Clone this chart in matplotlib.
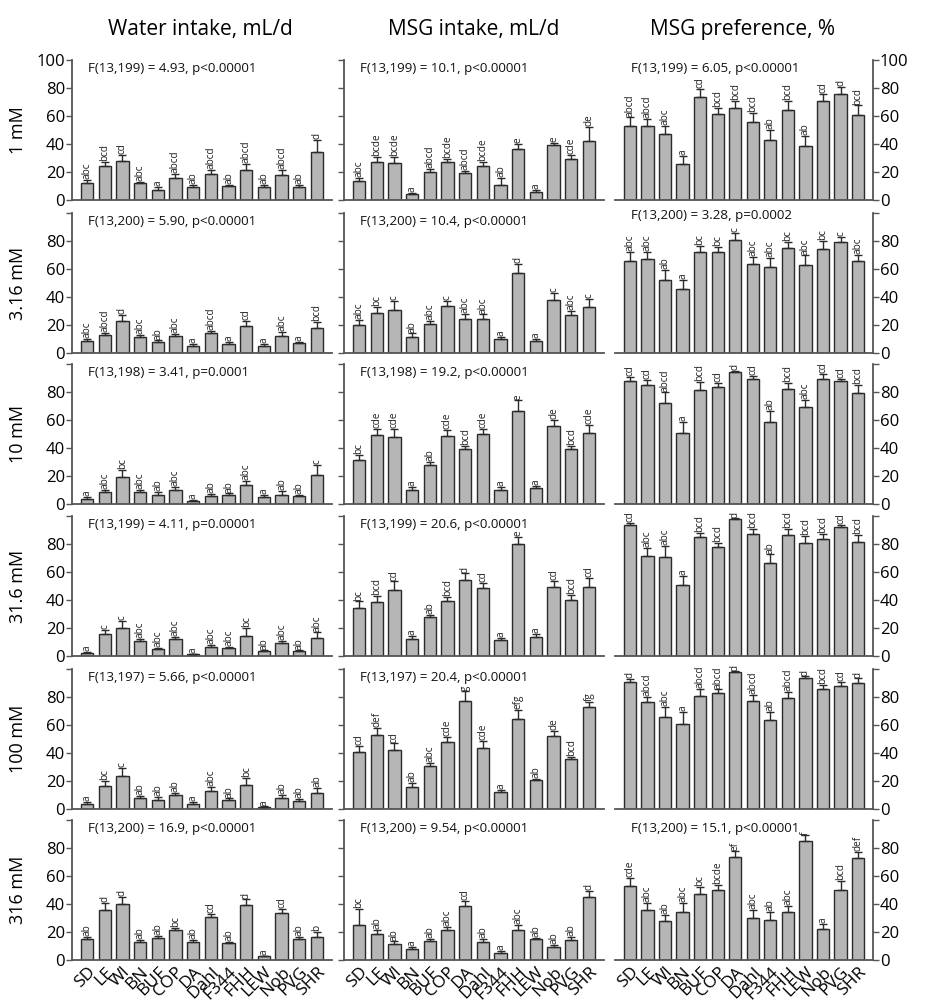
import matplotlib
matplotlib.use('Agg')
import matplotlib.pyplot as plt
import numpy as np

plt.rcParams['font.family'] = ['Open Sans', 'DejaVu Sans']

strains = ['SD', 'LE', 'WI', 'BN', 'BUF', 'COP', 'DA', 'Dahl', 'F344', 'FHH', 'LEW', 'Nob', 'PVG', 'SHR']
concentrations = ['1 mM', '3.16 mM', '10 mM', '31.6 mM', '100 mM', '316 mM']
column_titles = ['Water intake, mL/d', 'MSG intake, mL/d', 'MSG preference, %']

# ---- 1 mM ----
water_1 = [12.5, 24, 28, 12, 7, 16, 9, 18.5, 10, 21.5, 9.5, 18, 9, 34]
water_1_sem = [2, 3, 4, 1, 2.5, 2.5, 1.5, 3, 1, 4.5, 1, 3.5, 2, 9]
water_1_let = ['abc', 'bcd', 'cd', 'abc', 'a', 'abcd', 'ab', 'abcd', 'ab', 'abcd', 'ab', 'abcd', 'ab', 'd']
msg_1 = [13.5, 27, 26.5, 4, 20, 27, 19, 24, 11, 36.5, 6, 39.5, 29, 42.5]
msg_1_sem = [2, 3.5, 4.5, 1, 2, 2.5, 2, 3, 5, 3.5, 1.5, 1.5, 3, 9.5]
msg_1_let = ['abc', 'bcde', 'bcde', 'a', 'abcd', 'bcde', 'abcd', 'bcde', 'ab', 'e', 'a', 'e', 'cde', 'de']
pref_1 = [53, 53, 47, 25.5, 73.5, 61.5, 66, 55.5, 43, 64, 38.5, 71, 76, 60.5]
pref_1_sem = [6, 5, 6, 6, 6, 4, 4.5, 6.5, 7, 7, 7, 4.5, 5, 7]
pref_1_let = ['abcd', 'abcd', 'abc', 'a', 'cd', 'bcd', 'bcd', 'bcd', 'ab', 'bcd', 'ab', 'cd', 'd', 'bcd']

# ---- 3.16 mM ----
water_2 = [8.8, 12.9, 23.2, 11.7, 8, 12, 5.2, 14.3, 6.2, 19.1, 5, 12, 7, 18.1]
water_2_sem = [1.5, 1.7, 4, 1.4, 1, 1.6, 1.2, 1.7, 1.7, 4.1, 1.2, 3, 1.2, 4.1]
water_2_let = ['abc', 'abcd', 'd', 'abc', 'ab', 'abc', 'a', 'abcd', 'a', 'cd', 'a', 'abc', 'a', 'bcd']
msg_2 = [20, 28.9, 31, 11.5, 20.8, 33.7, 24.6, 24.6, 10, 57.3, 8.6, 37.7, 27, 33]
msg_2_sem = [3.9, 4.1, 6, 2.5, 1.9, 3.8, 3.1, 3, 1.5, 6.2, 1.2, 5, 2.8, 5.7]
msg_2_let = ['abc', 'bc', 'c', 'ab', 'abc', 'c', 'abc', 'abc', 'a', 'd', 'a', 'c', 'abc', 'c']
pref_2 = [65.6, 67.5, 51.8, 45.8, 72.3, 72.3, 80.7, 63.7, 61.6, 75, 62.8, 74.5, 79.5, 65.4]
pref_2_sem = [6.4, 4.5, 7.4, 6.5, 4.3, 3.4, 5.2, 5, 6.4, 4.5, 6.9, 5.5, 3.3, 4.8]
pref_2_let = ['abc', 'abc', 'ab', 'a', 'bc', 'bc', 'c', 'abc', 'abc', 'bc', 'abc', 'bc', 'c', 'abc']

# ---- 10 mM ----
water_3 = [3.3, 8.4, 19.6, 8.6, 6.4, 10.3, 2.1, 5.5, 6.4, 13.8, 5.3, 6.4, 5.5, 20.5]
water_3_sem = [1.7, 1.9, 4.7, 1.4, 2, 2.1, 0.8, 1.7, 1.2, 2.9, 1.1, 2.9, 0.9, 7.2]
water_3_let = ['a', 'abc', 'bc', 'abc', 'ab', 'abc', 'a', 'ab', 'ab', 'abc', 'a', 'ab', 'ab', 'c']
msg_3 = [31.5, 49.4, 47.7, 10.3, 27.7, 48.9, 39.1, 49.9, 10.3, 66.6, 11.5, 55.8, 39, 50.8]
msg_3_sem = [3.5, 4.3, 6, 1.9, 2.1, 4.3, 2.4, 3.6, 1.9, 7.4, 1.5, 4.2, 2.5, 5.8]
msg_3_let = ['bc', 'cde', 'cde', 'a', 'ab', 'cde', 'bcd', 'cde', 'a', 'e', 'a', 'de', 'bcd', 'cde']
pref_3 = [87.6, 85, 72, 50.4, 81.1, 83.3, 94, 89.5, 58.7, 82.1, 69, 89.3, 87.8, 79.2]
pref_3_sem = [3.4, 3.5, 7.7, 8.1, 6.2, 3.1, 1.2, 2.1, 7.9, 4.5, 5.5, 3.7, 1.5, 5.8]
pref_3_let = ['cd', 'cd', 'abcd', 'a', 'bcd', 'cd', 'd', 'cd', 'ab', 'bcd', 'abc', 'cd', 'cd', 'bcd']

# ---- 31.6 mM ----
water_4 = [2.4, 15.5, 19.8, 10.7, 4.8, 11.9, 1.2, 6.7, 5.7, 14.5, 3.3, 9.3, 3.3, 12.6]
water_4_sem = [0.5, 3.1, 5.2, 1.4, 0.9, 1.7, 0.5, 1.4, 1, 5.3, 0.7, 1.7, 0.7, 4.3]
water_4_let = ['a', 'c', 'c', 'abc', 'abc', 'abc', 'a', 'abc', 'abc', 'bc', 'ab', 'abc', 'ab', 'abc']
msg_4 = [34.3, 38.3, 46.9, 12.4, 27.6, 39, 54.3, 48.6, 11.4, 79.8, 13.8, 49, 40.2, 49.5]
msg_4_sem = [4.7, 4.6, 6.4, 1.9, 1.9, 3.4, 4.7, 3.8, 1.5, 5.4, 1.7, 4.6, 3.4, 6]
msg_4_let = ['bc', 'bcd', 'cd', 'a', 'ab', 'bcd', 'd', 'cd', 'a', 'e', 'a', 'cd', 'bcd', 'cd']
pref_4 = [93.3, 71.2, 70.5, 50.5, 85, 77.9, 97.9, 87.4, 66.2, 86.2, 80.7, 83.3, 92.4, 81.2]
pref_4_sem = [1.7, 5.9, 8.3, 6.6, 3, 2.6, 0.4, 3.6, 6.4, 4.5, 4.8, 4.1, 1.4, 5.5]
pref_4_let = ['cd', 'abc', 'abc', 'a', 'bcd', 'bcd', 'd', 'bcd', 'ab', 'bcd', 'bcd', 'bcd', 'cd', 'bcd']

# ---- 100 mM ----
water_5 = [3.6, 16.5, 23.4, 7.6, 6.7, 9.8, 3.3, 12.9, 6.4, 17.4, 1.4, 8.1, 5.7, 11.2]
water_5_sem = [1.2, 3.3, 6, 1.7, 1.7, 1.7, 2, 2.9, 1.2, 5, 0.5, 2.2, 1.5, 3.8]
water_5_let = ['a', 'bc', 'c', 'ab', 'ab', 'ab', 'a', 'abc', 'ab', 'bc', 'a', 'ab', 'ab', 'ab']
msg_5 = [41, 53.2, 41.8, 16, 30.5, 48.2, 76.8, 43.7, 12, 64, 20.5, 52, 35.8, 72.6]
msg_5_sem = [4.3, 5, 5, 2.6, 2.5, 3.4, 7.2, 4.7, 1.4, 6.6, 1.2, 4, 1.7, 3.8]
msg_5_let = ['cd', 'def', 'cd', 'ab', 'abc', 'cde', 'g', 'cde', 'a', 'efg', 'ab', 'de', 'bcd', 'fg']
pref_5 = [91, 76.6, 66, 60.4, 81, 83, 97.6, 77, 63.4, 79, 93.8, 85.7, 88, 90]
pref_5_sem = [1.8, 3.4, 7.2, 9.1, 5, 2.4, 0.7, 4.5, 5.9, 4.5, 0.9, 2.8, 2.5, 3.3]
pref_5_let = ['d', 'abcd', 'abc', 'a', 'abcd', 'abcd', 'd', 'abcd', 'ab', 'abcd', 'd', 'bcd', 'cd', 'd']

# ---- 316 mM ----
water_6 = [15, 35.5, 39.8, 12.9, 15.5, 21.2, 12.6, 30.5, 11.9, 39.5, 2.6, 33.8, 14.8, 16.7]
water_6_sem = [1.7, 5.2, 5.2, 1.4, 1.6, 1.7, 1.7, 2.4, 1, 3.8, 0.5, 2.4, 1.9, 3.3]
water_6_let = ['ab', 'd', 'd', 'ab', 'ab', 'bc', 'ab', 'cd', 'ab', 'd', 'a', 'cd', 'ab', 'b']
msg_6 = [25, 18.3, 11.7, 7.6, 13.3, 21.4, 38.6, 12.9, 5, 21.2, 14.8, 9.3, 14, 45.2]
msg_6_sem = [11.2, 3.1, 1.6, 1.7, 1.7, 2.4, 3.8, 1.9, 1.7, 4, 0.9, 1.4, 2.2, 4.1]
msg_6_let = ['bc', 'ab', 'ab', 'a', 'ab', 'abc', 'cd', 'ab', 'a', 'abc', 'ab', 'ab', 'ab', 'd']
pref_6 = [52.9, 35.7, 27.6, 34.3, 47.1, 50.2, 73.6, 30, 28.3, 34.3, 85.2, 22.1, 50, 72.6]
pref_6_sem = [5.9, 4.8, 4.8, 6.4, 5.3, 3.4, 4, 5.7, 6, 4.3, 3.8, 3.6, 6.4, 4.5]
pref_6_let = ['cde', 'abc', 'ab', 'abc', 'bc', 'bcde', 'ef', 'abc', 'ab', 'abc', 'f', 'a', 'bcd', 'def']

stats = [
    ['F(13,199) = 4.93, p<0.00001', 'F(13,199) = 10.1, p<0.00001', 'F(13,199) = 6.05, p<0.00001'],
    ['F(13,200) = 5.90, p<0.00001', 'F(13,200) = 10.4, p<0.00001', 'F(13,200) = 3.28, p=0.0002'],
    ['F(13,198) = 3.41, p=0.0001', 'F(13,198) = 19.2, p<0.00001', ''],
    ['F(13,199) = 4.11, p=0.00001', 'F(13,199) = 20.6, p<0.00001', ''],
    ['F(13,197) = 5.66, p<0.00001', 'F(13,197) = 20.4, p<0.00001', ''],
    ['F(13,200) = 16.9, p<0.00001', 'F(13,200) = 9.54, p<0.00001', 'F(13,200) = 15.1, p<0.00001'],
]

panels = [
    [(water_1, water_1_sem, water_1_let), (msg_1, msg_1_sem, msg_1_let), (pref_1, pref_1_sem, pref_1_let)],
    [(water_2, water_2_sem, water_2_let), (msg_2, msg_2_sem, msg_2_let), (pref_2, pref_2_sem, pref_2_let)],
    [(water_3, water_3_sem, water_3_let), (msg_3, msg_3_sem, msg_3_let), (pref_3, pref_3_sem, pref_3_let)],
    [(water_4, water_4_sem, water_4_let), (msg_4, msg_4_sem, msg_4_let), (pref_4, pref_4_sem, pref_4_let)],
    [(water_5, water_5_sem, water_5_let), (msg_5, msg_5_sem, msg_5_let), (pref_5, pref_5_sem, pref_5_let)],
    [(water_6, water_6_sem, water_6_let), (msg_6, msg_6_sem, msg_6_let), (pref_6, pref_6_sem, pref_6_let)],
]

W, H = 927, 1006
fig = plt.figure(figsize=(W / 100, H / 100), dpi=100)

col_x = [(72, 332), (344, 604), (615, 873)]
row_y = [(60, 200), (213, 353), (364, 504), (516, 656), (669, 809), (820, 960)]

bar_color = '#b6b6b6'
edge_color = '#2b2b2b'
spine_color = '#555555'
x = np.arange(len(strains))

for r in range(6):
    for c in range(3):
        x0, x1 = col_x[c]
        ytop, ybot = row_y[r]
        ax = fig.add_axes([x0 / W, 1 - ybot / H, (x1 - x0) / W, (ybot - ytop) / H])
        vals, sems, lets = panels[r][c]
        vals = np.array(vals)
        sems = np.array(sems)
        ax.bar(x, vals, width=0.7, color=bar_color, edgecolor=edge_color, linewidth=1.0, zorder=2)
        ax.errorbar(x, vals, yerr=[np.zeros_like(sems), sems], fmt='none', ecolor=edge_color,
                    elinewidth=1.0, capsize=3, capthick=1.0, zorder=3)
        for xi, v, s, l in zip(x, vals, sems, lets):
            ax.text(xi, v + s + 0.6, l, rotation=90, ha='center', va='bottom', fontsize=7.2,
                    color='#222222', clip_on=False)
        ax.set_xlim(-0.85, 13.85)
        ax.set_ylim(0, 100)
        ax.set_yticks([0, 20, 40, 60, 80, 100])
        ylabels = ['0', '20', '40', '60', '80', '100' if r == 0 else '']
        ax.spines['top'].set_visible(False)
        if c == 2:
            ax.spines['left'].set_visible(False)
            ax.yaxis.tick_right()
            ax.set_yticklabels(ylabels)
            ax.tick_params(axis='y', which='both', right=True, left=False, length=4,
                           width=1, color=spine_color, labelsize=12, pad=1)
        else:
            ax.spines['right'].set_visible(False)
            if c == 0:
                ax.set_yticklabels(ylabels)
                ax.tick_params(axis='y', length=4, width=1, color=spine_color, labelsize=12, pad=1)
            else:
                ax.set_yticklabels([])
                ax.tick_params(axis='y', length=4, width=1, color=spine_color)
        for s in ['left', 'right', 'bottom']:
            ax.spines[s].set_color(spine_color)
            ax.spines[s].set_linewidth(1.3)
        ax.set_xticks(x)
        if r == 5:
            ax.set_xticklabels(strains, rotation=45, ha='right', rotation_mode='anchor', fontsize=12.5)
            ax.tick_params(axis='x', length=0, pad=3)
        else:
            ax.set_xticklabels([])
            ax.tick_params(axis='x', length=0)
        if stats[r][c]:
            ytxt = 1.03 if (c == 2 and r == 1) else 0.985
            ax.text(16 / (x1 - x0), ytxt, stats[r][c], transform=ax.transAxes, ha='left', va='top',
                    fontsize=9.6, color='#111111')
        if c == 0:
            fig.text(18 / W, 1 - ((ytop + ybot) / 2) / H, concentrations[r], rotation=90,
                     ha='center', va='center', fontsize=13)

title_x = [200, 474, 742]
for t, tx in zip(column_titles, title_x):
    fig.text(tx / W, 1 - 30 / H, t, ha='center', va='center', fontsize=15)

fig.savefig('out.png', dpi=100)
